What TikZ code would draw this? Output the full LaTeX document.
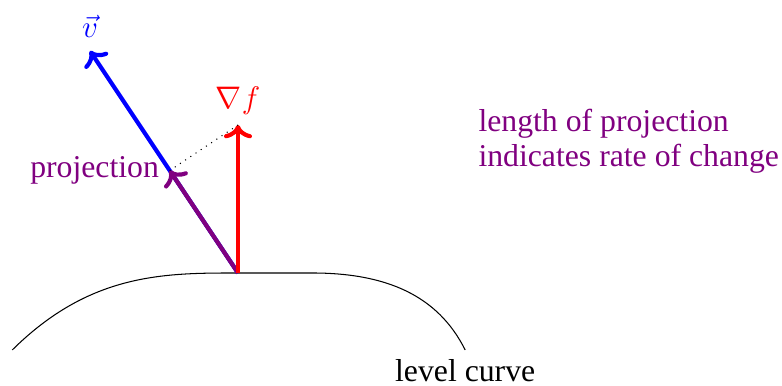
\documentclass[tikz,border=0pt]{standalone}
\usepackage{fontspec}
\setmainfont{Liberation Serif}
\usepackage{amsmath,amssymb}
\usetikzlibrary{positioning,arrows.meta,calc}

\begin{document}
\begin{tikzpicture}[font=\fontsize{12.2}{13.2}\selectfont]
\useasboundingbox (-3.216,-1.527) rectangle (7.351,3.689);
\coordinate (O) at (0,0);
\coordinate (G) at (0,2);
\coordinate (V) at (-2,3);
\coordinate (P) at ($(O)!(G)!(V)$);
\coordinate (A) at (-3.05,-1.04);
\coordinate (B) at (3.07,-1.04);
\draw (A) .. controls (-2,0) and (-1,0) .. (O) -- (1,0) .. controls (2,0) and (2.7,-0.3) .. (B);
\draw[->,ultra thick,blue] (O) -- (V) node[above=1pt] (vlab) {$\vec{v}$};
\draw[->,ultra thick,violet] (O) -- (P) node[left] (plab) {projection};
\draw[->,ultra thick,red] (O) -- (G) node[above] (glab) {$\nabla f$};
\draw[dotted] (G) -- (P);
\node[below] (clab) at (B) {level curve};
\node[violet,align=left] (note) at (5.28,1.78) {length of projection\\indicates rate of change};
\end{tikzpicture}
\end{document}
